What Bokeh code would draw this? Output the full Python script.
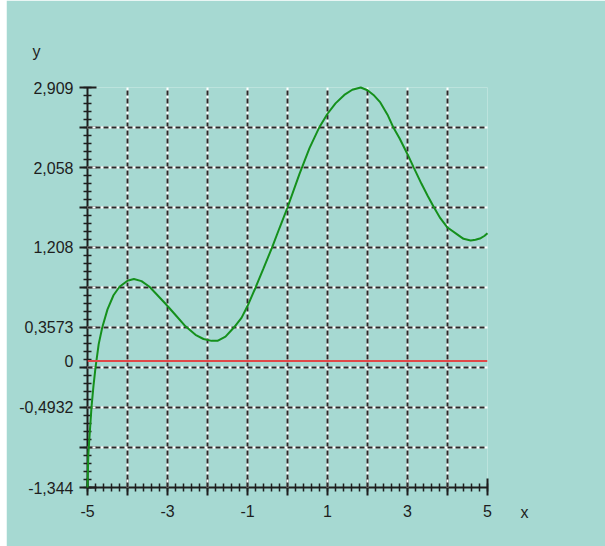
from bokeh.plotting import figure
from bokeh.models import (FixedTicker, Grid, LinearAxis, Range1d, Span, Spacer,
                          Title, CustomLabelingPolicy)
from bokeh.layouts import row
from bokeh.embed import file_html
from bokeh.resources import INLINE

# Curve samples
x_vals = [-5.00, -4.98, -4.95, -4.90, -4.85, -4.80, -4.72, -4.63, -4.50, -4.35,
          -4.20, -4.00, -3.84, -3.65, -3.45, -3.25, -3.05, -2.80, -2.55, -2.30,
          -2.10, -1.90, -1.75, -1.55, -1.34, -1.15, -1.00, -0.80, -0.60, -0.38,
          -0.20, 0.00, 0.30, 0.55, 0.80, 1.00, 1.20, 1.42, 1.62, 1.83,
          2.00, 2.15, 2.32, 2.50, 2.64, 2.80, 3.00, 3.16, 3.35, 3.50,
          3.66, 3.82, 4.00, 4.25, 4.40, 4.58, 4.70, 4.83, 4.92, 5.00]
y_vals = [-1.344, -1.00, -0.80, -0.49, -0.26, -0.07, 0.18, 0.36, 0.55, 0.70,
          0.79, 0.855, 0.872, 0.85, 0.79, 0.70, 0.61, 0.49, 0.37, 0.28,
          0.235, 0.215, 0.215, 0.26, 0.357, 0.46, 0.585, 0.78, 0.985, 1.215,
          1.415, 1.633, 1.99, 2.265, 2.49, 2.63, 2.74, 2.83, 2.885, 2.909,
          2.88, 2.83, 2.75, 2.62, 2.49, 2.37, 2.20, 2.055, 1.885, 1.76,
          1.635, 1.52, 1.42, 1.345, 1.30, 1.282, 1.29, 1.307, 1.33, 1.36]

x_min, x_max = -5, 5
y_min, y_max = -1.344, 2.909

x_label_values = [-5, -3, -1, 1, 3, 5]
x_label_texts = ["-5", "-3", "-1", "1", "3", "5"]
y_label_values = [2.909, 2.058, 1.208, 0.3573, 0.0, -0.4932, -1.344]
y_label_texts = ["2,909", "2,058", "1,208", "0,3573", "0", "-0,4932", "-1,344"]

BG = "#a6d9d2"
INK = "#1e1e1e"
FONT = "Liberation Sans"

# ten equal divisions on both axes, five minor steps in each
x_major = list(range(x_min, x_max + 1))
x_minor = [x_min + i * 0.2 for i in range(51)]
y_step = (y_max - y_min) / 10
y_major = [y_min + k * y_step for k in range(10)] + [y_max]
y_minor = [y_min + i * y_step / 5 for i in range(50)] + [y_max]

p = figure(width=599, height=546, output_backend="svg", toolbar_location=None,
           x_range=Range1d(x_min, x_max), y_range=Range1d(y_min, y_max))
p.min_border_left = 81
p.min_border_right = 118
p.min_border_top = 87
p.min_border_bottom = 59
p.background_fill_color = BG
p.border_fill_color = BG
p.outline_line_color = None

# tick axes next to the frame; their own labels are switched off
no_labels = CustomLabelingPolicy(code="""
for (const i of indices)
  indices.unset(i)
""")
xt = FixedTicker(ticks=x_major, minor_ticks=x_minor)
yt = FixedTicker(ticks=y_major, minor_ticks=y_minor)
p.xaxis.ticker = xt
p.yaxis.ticker = yt
for ax in (p.xaxis[0], p.yaxis[0]):
    ax.axis_line_color = INK
    ax.axis_line_width = 2
    ax.major_tick_line_color = INK
    ax.major_tick_line_width = 2
    ax.minor_tick_line_color = INK
    ax.minor_tick_line_width = 1.5
    ax.major_tick_in = 9
    ax.major_tick_out = 8
    ax.minor_tick_in = 4
    ax.minor_tick_out = 4
    ax.major_label_policy = no_labels
    ax.major_label_text_font_size = "0px"
    ax.major_label_standoff = 0


def label_axis(values, texts, standoff):
    return LinearAxis(ticker=FixedTicker(ticks=values, minor_ticks=[]),
                      major_label_overrides=dict(zip(values, texts)),
                      axis_line_color=None, major_tick_line_color=None,
                      minor_tick_line_color=None, major_tick_in=0,
                      major_tick_out=0, minor_tick_in=0, minor_tick_out=0,
                      major_label_standoff=standoff,
                      major_label_text_font=FONT,
                      major_label_text_font_size="16px",
                      major_label_text_color=INK)


p.add_layout(label_axis(y_label_values, y_label_texts, 6), "left")
p.add_layout(label_axis(x_label_values, x_label_texts, 9), "below")

# grids: white under-line with dark dashes on top
p.xgrid.visible = False
p.ygrid.visible = False
for dim, tk in ((0, xt), (1, yt)):
    p.add_layout(Grid(dimension=dim, ticker=tk, grid_line_color="white",
                      grid_line_width=2, level="annotation"))
    p.add_layout(Grid(dimension=dim, ticker=tk, grid_line_color="#2a2a2a",
                      grid_line_width=2, grid_line_dash="5 3", level="annotation"))

# zero line and curve
p.add_layout(Span(location=0, dimension="width", line_color="#e04848",
                  line_width=2, level="overlay"))
curve = p.line(x_vals, y_vals, line_color="#15901c", line_width=2)
curve.level = "overlay"

# axis names
p.add_layout(Title(text="y", align="left", offset=-55, standoff=55,
                   text_font=FONT, text_font_size="16px",
                   text_font_style="normal", text_color=INK), "above")
p.add_layout(Title(text="x", align="right", offset=-41, standoff=-32,
                   vertical_align="top",
                   text_font=FONT, text_font_size="16px",
                   text_font_style="normal", text_color=INK), "below")

layout = row(Spacer(width=6, height=546), p)
open("out.html", "w").write(file_html(layout, INLINE))
